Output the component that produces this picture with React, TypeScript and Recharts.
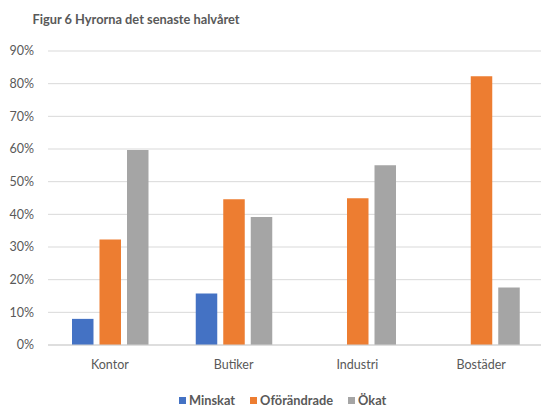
import React from "react";
import { BarChart, Bar, XAxis, YAxis, CartesianGrid } from "recharts";

// Categories and series values (percent)
const categories = ["Kontor", "Butiker", "Industri", "Bostäder"];
const minskat = [8, 15.8, 0, 0];
const oforandrade = [32.3, 44.6, 44.9, 82.3];
const okat = [59.7, 39.2, 55, 17.6];
const yTicks = [0, 10, 20, 30, 40, 50, 60, 70, 80, 90];

const seriesNames = ["Minskat", "Oförändrade", "Ökat"];
const colors = ["#4472C4", "#ED7D31", "#A5A5A5"];

const data = categories.map((name, i) => ({
  name,
  Minskat: minskat[i],
  Oförändrade: oforandrade[i],
  Ökat: okat[i],
}));

const FONT = "Lato, 'Open Sans', sans-serif";
const TEXT = "#595959";

export default function App() {
  return (
    <div
      style={{
        position: "absolute",
        left: 0,
        top: 0,
        width: 541,
        height: 407,
        overflow: "hidden",
        background: "#fff",
        fontFamily: FONT,
      }}
    >
      <div
        style={{
          position: "absolute",
          left: 32.5,
          top: 11,
          fontSize: 12.8,
          lineHeight: "16px",
          fontWeight: 700,
          color: TEXT,
          whiteSpace: "nowrap",
        }}
      >
        Figur 6 Hyrorna det senaste halvåret
      </div>
      <BarChart
        width={543}
        height={407}
        data={data}
        margin={{ top: 51, right: 0, bottom: 32, left: 0 }}
        barGap={6}
        barCategoryGap="19%"
      >
        <CartesianGrid vertical={false} stroke="#D9D9D9" strokeWidth={1} />
        <XAxis
          dataKey="name"
          height={30}
          axisLine={{ stroke: "#D0D0D0" }}
          tickLine={false}
          tickMargin={9}
          tick={{ fill: TEXT, fontSize: 12.5, fontFamily: FONT }}
        />
        <YAxis
          width={48}
          domain={[0, 90]}
          ticks={yTicks}
          interval={0}
          axisLine={false}
          tickLine={false}
          tickMargin={8}
          tickFormatter={(v: number) => `${v}%`}
          tick={{ fill: TEXT, fontSize: 12.5, fontFamily: FONT }}
        />
        {seriesNames.map((s, i) => (
          <Bar
            key={s}
            dataKey={s}
            fill={colors[i]}
            barSize={21.5}
            isAnimationActive={false}
          />
        ))}
      </BarChart>
      <div
        style={{
          position: "absolute",
          left: 179,
          top: 394,
          height: 13,
          display: "flex",
          gap: 15,
          fontSize: 12.8,
          lineHeight: "13px",
          fontWeight: 700,
          color: TEXT,
          whiteSpace: "nowrap",
        }}
      >
        {seriesNames.map((s, i) => (
          <div key={s} style={{ display: "flex", alignItems: "center" }}>
            <span
              style={{
                display: "inline-block",
                width: 7,
                height: 7,
                background: colors[i],
                marginRight: 3,
              }}
            />
            <span>{s}</span>
          </div>
        ))}
      </div>
    </div>
  );
}
